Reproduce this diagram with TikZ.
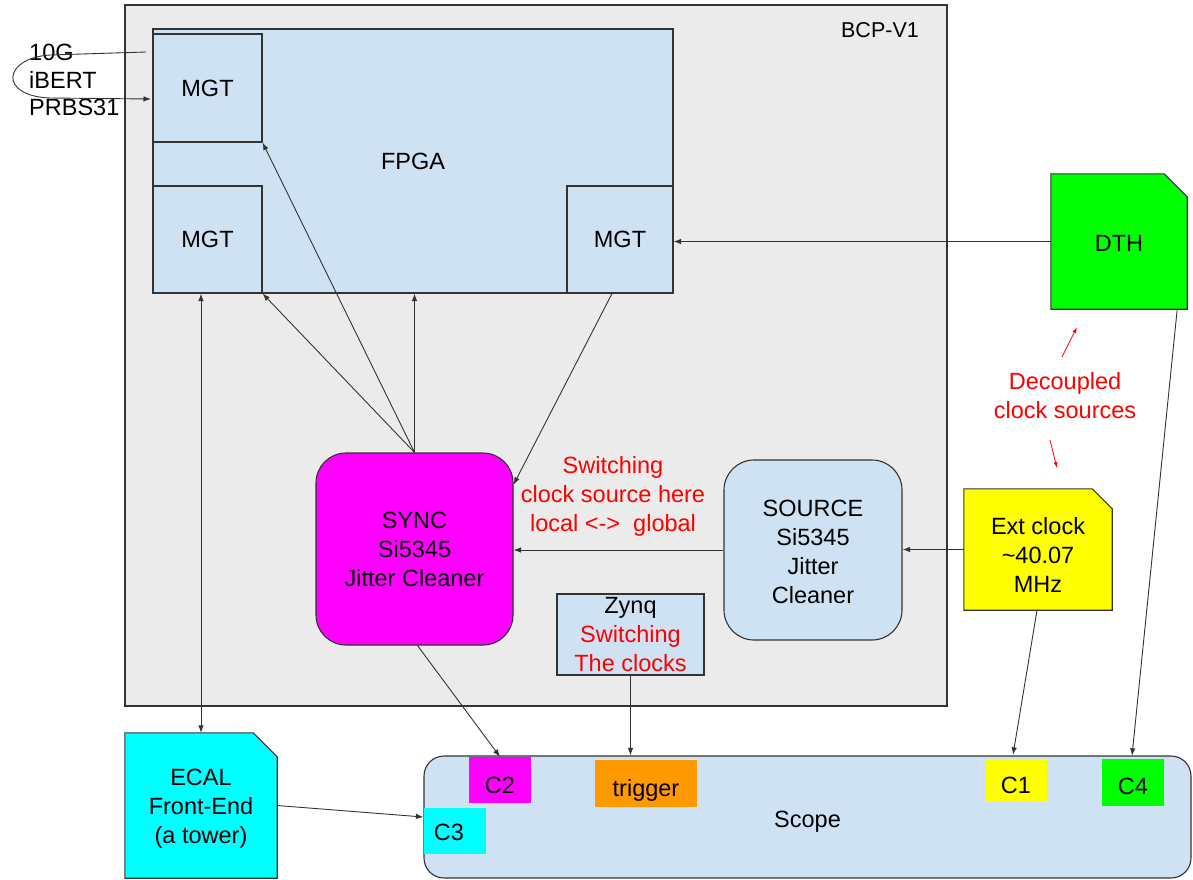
\documentclass[tikz,border=0pt]{standalone}
\usepackage{fontspec}
\setmainfont{Liberation Sans}
\usetikzlibrary{calc,arrows.meta,backgrounds}
\definecolor{bgray}{HTML}{EBEBEB}
\definecolor{lblue}{HTML}{CFE2F3}
\definecolor{mag}{HTML}{FF00FF}
\definecolor{grn}{HTML}{00FF00}
\definecolor{yel}{HTML}{FFFF00}
\definecolor{cya}{HTML}{00FFFF}
\definecolor{org}{HTML}{FF9900}
\definecolor{rd}{HTML}{FF0000}
\definecolor{edgec}{HTML}{333333}
\newcommand\myfs{\fontsize{23.5}{29}\selectfont}
\tikzset{
  box/.style={draw=edgec, line width=1.1pt, inner sep=0pt, font=\myfs, align=center},
  lbl/.style={inner sep=0pt, font=\myfs, align=center},
  chip/.style={inner sep=0pt, font=\myfs, text height=26pt, text depth=0pt},
  cutshape/.style={draw=edgec, line width=1.1pt},
  conn/.style={draw=edgec, line width=0.9pt, -{Latex[length=7.5pt,width=5.5pt]}},
  rconn/.style={draw=rd, line width=0.8pt, -{Latex[length=6pt,width=4pt]}},
  redtxt/.style={inner sep=0pt, font=\myfs, align=center, text=rd}
}
\begin{document}
\begin{tikzpicture}[x=1pt,y=-1pt]
\useasboundingbox (0,0) rectangle (1193,879);
% outer board
\node[box, fill=bgray, minimum width=822pt, minimum height=701pt] (bcp) at (536,355.5) {};
\node[lbl, anchor=east, font=\fontsize{21.5}{26}\selectfont] (bcplabel) at (919,30) {BCP-V1};
% FPGA and MGTs
\node[box, fill=lblue, minimum width=520pt, minimum height=264pt] (fpga) at (413,161) {FPGA};
\node[box, fill=lblue, minimum width=109pt, minimum height=108pt] (mgttl) at (207.5,88) {MGT};
\node[box, fill=lblue, minimum width=109pt, minimum height=107pt] (mgtbl) at (207.5,239.5) {MGT};
\node[box, fill=lblue, minimum width=106pt, minimum height=107pt] (mgtr) at (620,239.5) {MGT};
% clocks
\node[box, fill=mag, rounded corners=30pt, minimum width=197pt, minimum height=192pt] (sync) at (414.5,549) {SYNC\\Si5345\\Jitter Cleaner};
\node[box, fill=lblue, rounded corners=30pt, minimum width=178pt, minimum height=180pt] (source) at (813,550) {};
\node[lbl] (sourcet) at (813,552) {SOURCE\\Si5345\\Jitter\\Cleaner};
\node[box, fill=lblue, minimum width=147pt, minimum height=81pt] (zynq) at (630.5,634.5) {Zynq\\\textcolor{rd}{Switching}\\\textcolor{rd}{The clocks}};
\node[redtxt] (sw) at (613,496) {Switching\\clock source here\\local <->~ global};
% scope
\node[box, fill=lblue, rounded corners=20pt, minimum width=767pt, minimum height=122pt, text height=20pt, text depth=0pt] (scope) at (807.5,817) {Scope};
\node[chip, fill=mag, minimum width=62pt, minimum height=46pt] (c2) at (500,780) {C2};
\node[chip, fill=cya, minimum width=62pt, minimum height=46pt, text height=18pt] (c3) at (455,831) {\hspace*{-12pt}C3};
\node[chip, fill=org, minimum width=102pt, minimum height=47pt] (trig) at (646,783.5) {trigger};
\node[chip, fill=yel, minimum width=62pt, minimum height=43pt] (c1) at (1016,780.5) {C1};
\node[chip, fill=grn, minimum width=62pt, minimum height=47pt, text height=24pt] (c4) at (1133,782.5) {C4};
% cut-corner shapes
\node[lbl, minimum width=136pt, minimum height=135pt] (dth) at (1119,241.5) {};
\node[lbl] (dtht) at (1119,243) {DTH};
\node[lbl, minimum width=148pt, minimum height=121pt] (ext) at (1038,549.5) {};
\node[lbl] (extt) at (1038,555) {Ext clock\\\textasciitilde40.07\\MHz};
\node[lbl, minimum width=152pt, minimum height=145pt] (ecal) at (201,805.5) {};
\node[lbl] (ecalt) at (201,808.5) {ECAL\\Front-End\\(a tower)};
\begin{pgfonlayer}{background}
\path[cutshape, fill=grn] (dth.north west) -- ($(dth.north east)+(-23,0)$) -- ($(dth.north east)+(0,23)$) -- (dth.south east) -- (dth.south west) -- cycle;
\path[cutshape, fill=yel] (ext.north west) -- ($(ext.north east)+(-20,0)$) -- ($(ext.north east)+(0,20)$) -- (ext.south east) -- (ext.south west) -- cycle;
\path[cutshape, fill=cya] (ecal.north west) -- ($(ecal.north east)+(-24,0)$) -- ($(ecal.north east)+(0,24)$) -- (ecal.south east) -- (ecal.south west) -- cycle;
\end{pgfonlayer}
% loopback text
\node[lbl, anchor=west, align=left, font=\fontsize{23.5}{27.5}\selectfont] (ibert) at (29,80) {10G\\iBERT\\PRBS31};
\coordinate (loopa) at (146,52);
\coordinate (loopb) at (151,99);
\draw[conn] (loopa) -- (50,55) .. controls (3,58) and (-2,96) .. (50,98) -- (loopb);
% decoupled note
\node[redtxt] (dec) at (1065,396) {Decoupled\\clock sources};
\coordinate (r1s) at (1062,357);
\coordinate (r1e) at (1077,327);
\coordinate (r2s) at (1050,440);
\coordinate (r2e) at (1057,468);
\draw[rconn] (r1s) -- (r1e);
\draw[rconn] (r2s) -- (r2e);
% connectors
\draw[conn] (dth.west) -- (dth.west -| mgtr.east);
\draw[conn] (sync.north) -- (sync.north |- fpga.south);
\draw[conn] (sync.north) -- (mgtbl.south east);
\draw[conn] (sync.north) -- (mgttl.south east);
\draw[conn] ($(mgtr.south)+(-8,0)$) -- (sync.33);
\draw[conn] (source.west) -- (source.west -| sync.east);
\draw[conn] (ext.west) -- (ext.west -| source.east);
\draw[conn] ($(ext.south)+(-1,0)$) -- ($(c1.north)+(-3,-4)$);
\draw[conn] ($(dth.south east)+(-10,0)$) -- ($(c4.north)+(-1,-3)$);
\draw[conn] ($(sync.south)+(3,0)$) -- (c2.north);
\draw[conn] (zynq.south) -- (zynq.south |- scope.north);
\draw[conn] (ecal.east) -- (scope.west);
\draw[conn, {Latex[length=7.5pt,width=5.5pt]}-{Latex[length=7.5pt,width=5.5pt]}] (ecal.north) -- (ecal.north |- mgtbl.south);
\end{tikzpicture}
\end{document}
